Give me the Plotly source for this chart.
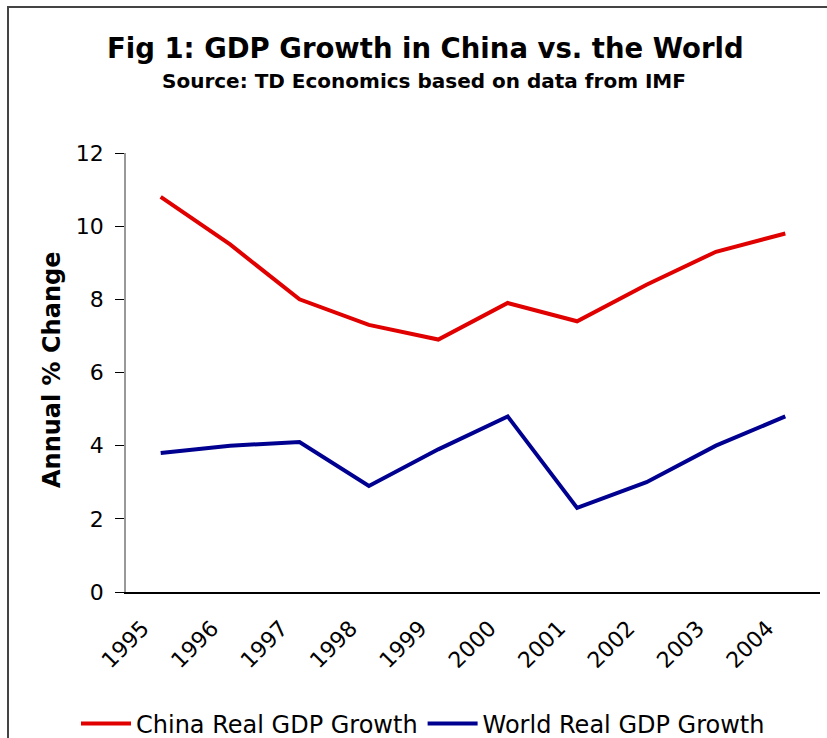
import plotly.graph_objects as go

years = ["1995", "1996", "1997", "1998", "1999", "2000", "2001", "2002", "2003", "2004"]
china = [10.8, 9.5, 8.0, 7.3, 6.9, 7.9, 7.4, 8.4, 9.3, 9.8]
world = [3.8, 4.0, 4.1, 2.9, 3.9, 4.8, 2.3, 3.0, 4.0, 4.8]
y_ticks = [0, 2, 4, 6, 8, 10, 12]

W, H = 827, 738
ML, MR, MT, MB = 126, 7, 153, 146
PW, PH = W - ML - MR, H - MT - MB

def px(x):
    return (x - ML) / PW

def py(y):
    return (H - MB - y) / PH

FONT = "DejaVu Sans"

fig = go.Figure()
fig.add_trace(go.Scatter(x=years, y=china, mode="lines", name="China Real GDP Growth",
                         line=dict(color="#e00000", width=4)))
fig.add_trace(go.Scatter(x=years, y=world, mode="lines", name="World Real GDP Growth",
                         line=dict(color="#000090", width=4)))

fig.update_layout(
    width=W, height=H,
    margin=dict(l=ML, r=MR, t=MT, b=MB, pad=0, autoexpand=False),
    paper_bgcolor="white", plot_bgcolor="white",
    font=dict(family=FONT, color="black", size=20),
    showlegend=True,
    legend=dict(orientation="h", x=px(423), y=py(724), xanchor="center", yanchor="middle",
                font=dict(size=24, family=FONT), itemwidth=50, tracegroupgap=0,
                bgcolor="rgba(0,0,0,0)"),
    xaxis=dict(type="category", range=[-0.5, 9.5], showline=True, linecolor="black",
               linewidth=1.5, ticks="", tickangle=-45, showgrid=False, zeroline=False,
               automargin=False, ticklabelstandoff=13, ticklabelshift=-18,
               tickfont=dict(size=22, family=FONT)),
    yaxis=dict(range=[0, 12], tickvals=y_ticks, showline=True, linecolor="#999999",
               linewidth=1.5, ticks="outside", ticklen=9, tickcolor="black", tickwidth=1,
               showgrid=False, zeroline=False, automargin=False, ticklabelstandoff=7,
               tickfont=dict(size=22, family=FONT)),
    annotations=[
        dict(text="<b>Fig 1: GDP Growth in China vs. the World</b>", xref="paper", yref="paper",
             x=px(425), y=py(48), xanchor="center", yanchor="middle", showarrow=False,
             font=dict(size=27.5, family=FONT)),
        dict(text="<b>Source: TD Economics based on data from IMF</b>", xref="paper", yref="paper",
             x=px(424), y=py(81), xanchor="center", yanchor="middle", showarrow=False,
             font=dict(size=20, family=FONT)),
        dict(text="<b>Annual % Change</b>", xref="paper", yref="paper",
             x=px(52), y=py(370), xanchor="center", yanchor="middle", showarrow=False,
             textangle=-90, font=dict(size=24, family=FONT)),
    ],
    shapes=[
        dict(type="rect", xref="paper", yref="paper", x0=px(8), x1=px(860), y0=py(780), y1=py(7),
             line=dict(color="#444444", width=2), fillcolor="rgba(0,0,0,0)", layer="below"),
    ],
)

fig.write_html("out.html")
